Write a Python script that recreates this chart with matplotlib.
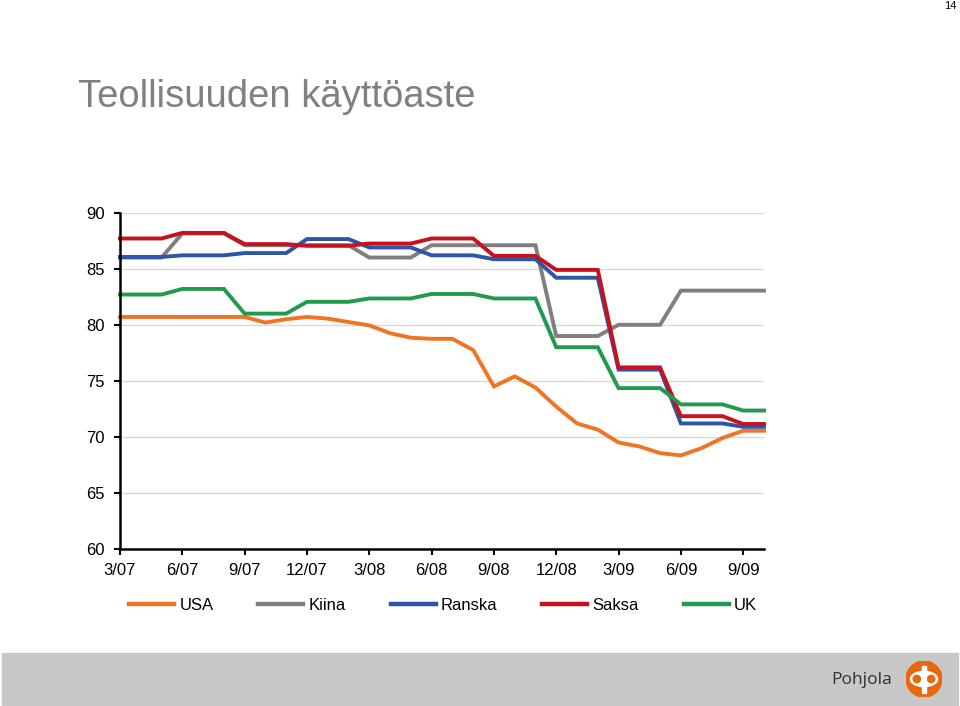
import matplotlib
matplotlib.use("Agg")
import matplotlib.pyplot as plt
from matplotlib.patches import Rectangle, Circle, Ellipse
from matplotlib.lines import Line2D

plt.rcParams["font.family"] = ["Liberation Sans", "DejaVu Sans"]

# monthly points, 3/07 .. 10/09
tick_labels = ["3/07", "6/07", "9/07", "12/07", "3/08", "6/08",
               "9/08", "12/08", "3/09", "6/09", "9/09"]

usa = [80.7, 80.7, 80.7, 80.7, 80.7, 80.7, 80.7, 80.2, 80.5, 80.7, 80.55,
       80.25, 79.95, 79.25, 78.85, 78.75, 78.75, 77.75, 74.5, 75.4, 74.4,
       72.7, 71.2, 70.65, 69.5, 69.15, 68.55, 68.35, 69.0, 69.9, 70.55, 70.55]
kiina = [86.0, 86.0, 86.0, 88.15, 88.15, 88.15, 87.1, 87.1, 87.1, 87.1, 87.1,
         87.1, 86.0, 86.0, 86.0, 87.1, 87.1, 87.1, 87.1, 87.1, 87.1, 79.0,
         79.0, 79.0, 80.0, 80.0, 80.0, 83.05, 83.05, 83.05, 83.05, 83.05]
ranska = [86.05, 86.05, 86.05, 86.2, 86.2, 86.2, 86.4, 86.4, 86.4, 87.65,
          87.65, 87.65, 86.9, 86.9, 86.9, 86.2, 86.2, 86.2, 85.85, 85.85,
          85.85, 84.2, 84.2, 84.2, 76.0, 76.0, 76.0, 71.2, 71.2, 71.2, 70.9,
          70.9]
saksa = [87.7, 87.7, 87.7, 88.2, 88.2, 88.2, 87.2, 87.2, 87.2, 87.05, 87.05,
         87.05, 87.25, 87.25, 87.25, 87.7, 87.7, 87.7, 86.15, 86.15, 86.15,
         84.9, 84.9, 84.9, 76.2, 76.2, 76.2, 71.85, 71.85, 71.85, 71.15, 71.15]
uk = [82.7, 82.7, 82.7, 83.2, 83.2, 83.2, 81.0, 81.0, 81.0, 82.05, 82.05,
      82.05, 82.35, 82.35, 82.35, 82.75, 82.75, 82.75, 82.35, 82.35, 82.35,
      78.0, 78.0, 78.0, 74.35, 74.35, 74.35, 72.9, 72.9, 72.9, 72.35, 72.35]

series = [
    ("USA", usa, "#F07423"),
    ("Kiina", kiina, "#7F7F7F"),
    ("Ranska", ranska, "#2F55A4"),
    ("Saksa", saksa, "#C8101E"),
    ("UK", uk, "#21994F"),
]

fig = plt.figure(figsize=(9.6, 7.06), dpi=100)

# footer band
fig.patches.append(Rectangle((2 / 960, 1 / 706), 956 / 960, 52 / 706,
                             transform=fig.transFigure, color="#C8C8C8",
                             zorder=-1))

ax = fig.add_axes([0.125, 0.2224, 0.6708, 0.4763])

handles = []
for name, vals, col in series:
    ax.plot(range(len(vals)), vals, color=col, lw=2.8,
            solid_joinstyle="miter", clip_on=False)
    handles.append(Line2D([], [], color=col, lw=3.2))

ax.set_xlim(0, 31)
ax.set_ylim(60, 90)
ax.set_xticks(range(0, 31, 3))
ax.set_xticklabels(tick_labels)
ax.set_yticks(range(60, 91, 5))
ax.yaxis.grid(True, color="#D9D9D9", lw=1)
ax.set_axisbelow(True)
for s in ["top", "right"]:
    ax.spines[s].set_visible(False)
for s in ["left", "bottom"]:
    ax.spines[s].set_linewidth(1.8)
ax.tick_params(direction="out", length=4, width=1.5, labelsize=12)
ax.tick_params(axis="x", pad=6)
ax.tick_params(axis="y", pad=7)

fig.legend(handles, [s[0] for s in series], loc="center",
           bbox_to_anchor=(0.4615, 1 - 605 / 706), ncol=5, frameon=False,
           handlelength=2.7, handletextpad=0.3, columnspacing=2.7,
           fontsize=12)

fig.text(78 / 960, 1 - 97 / 706, "Teollisuuden käyttöaste", fontsize=27.5,
         color="#808080", va="center")
fig.text(950 / 960, 1 - 6 / 706, "14", fontsize=8, ha="center", va="center")

fig.text(892 / 960, 1 - 680 / 706, "Pohjola", fontsize=12.5, color="#303030",
         ha="right", va="center", family="Open Sans")

# logo
logo = fig.add_axes([(924 - 18) / 960, (706 - 679 - 18) / 706,
                     36 / 960, 36 / 706], zorder=5)
logo.set_xlim(-1, 1)
logo.set_ylim(-1, 1)
logo.set_aspect("equal")
logo.axis("off")
logo.add_patch(Circle((0, 0), 1, color="#E8680F"))
logo.add_patch(Ellipse((0, 0), 1.5, 0.85, color="white"))
logo.add_patch(Rectangle((-0.11, -0.75), 0.22, 1.5, color="white"))
logo.add_patch(Circle((-0.4, 0), 0.2, color="#E8680F"))
logo.add_patch(Circle((0.4, 0), 0.2, color="#E8680F"))

fig.savefig("out.png", dpi=100)
